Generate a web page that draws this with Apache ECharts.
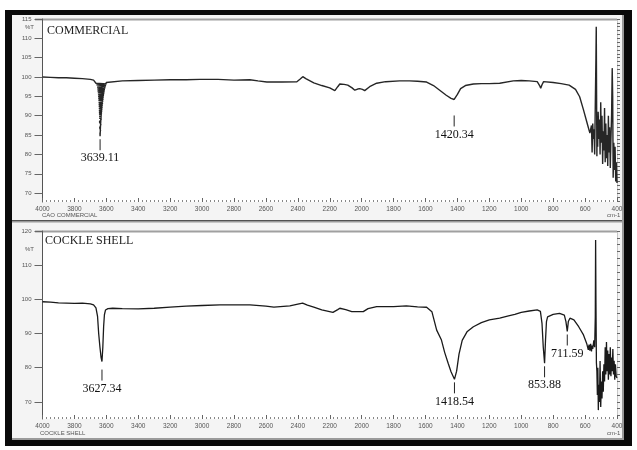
<!DOCTYPE html>
<html>
<head>
<meta charset="utf-8">
<script src="https://cdn.jsdelivr.net/npm/echarts@6/dist/echarts.min.js"></script>
<style>
  html, body { margin: 0; padding: 0; background: #fff; }
  #chart { width: 637px; height: 450px; }
</style>
</head>
<body>
<div id="chart"></div>
<script>
// FTIR transmittance spectra (wavenumber in cm-1, transmittance in %T)
// The commercial O-H band near 3639 cm-1 is a dense burst of readings, listed in scan order.
const commercialWn = [
  4000, 3950, 3900, 3850, 3800, 3750, 3700, 3680, 3670,
  3665, 3599, 3662, 3603, 3658, 3606, 3656, 3609, 3655, 3611, 3653, 3613, 3652, 3615, 3651, 3617,
  3650, 3618, 3649, 3620, 3648, 3621, 3647.5, 3623, 3647, 3624, 3646.5, 3625, 3646, 3626.5, 3645.5, 3628,
  3645, 3629, 3644.5, 3630, 3644, 3631, 3643.5, 3632, 3643, 3633, 3642.5, 3634, 3642, 3635, 3641.5, 3635.5,
  3641, 3636.5, 3640.5, 3637, 3640, 3639.11, 3637, 3633, 3625, 3612, 3600,
  3590, 3500, 3400, 3300, 3200, 3100,
  3014, 2900, 2800, 2701, 2650, 2594, 2500, 2406, 2385, 2369, 2350, 2300, 2250, 2200, 2168, 2150,
  2137, 2110, 2087, 2060, 2043, 2025, 2012, 1995, 1981, 1950, 1906, 1850, 1762, 1700, 1650, 1593,
  1550, 1511, 1470, 1440, 1420.34, 1400, 1380, 1350, 1300, 1250, 1200, 1135, 1050, 1000, 950, 900,
  885, 878, 870, 860, 800, 750, 700, 660, 634, 610, 590, 584, 570, 565, 560, 556,
  552, 548, 544, 540, 536, 532, 530, 528, 526, 524, 521, 518, 514, 510, 506, 502,
  498, 494, 490, 486, 482, 478, 474, 470, 466, 462, 458, 454, 450, 446, 442, 438,
  434, 430, 427, 424, 420, 416, 412, 408, 404, 400
];
const commercialT = [
  100.0, 99.9, 99.8, 99.8, 99.7, 99.6, 99.4, 99.2, 99.0,
  98.4, 98.2, 98.0, 97.7, 97.4, 97.2, 96.9, 96.7, 96.4, 96.2, 95.9, 95.7, 95.4, 95.2, 94.9, 94.7,
  94.4, 94.2, 93.9, 93.7, 93.4, 93.2, 92.9, 92.7, 92.4, 92.2, 91.9, 91.7, 91.4, 91.2, 90.9, 90.7,
  90.4, 90.2, 89.9, 89.7, 89.4, 89.2, 88.9, 88.7, 88.4, 88.2, 87.9, 87.7, 87.4, 87.2, 86.9, 86.7,
  86.4, 86.2, 85.9, 85.7, 85.4, 84.7, 87.0, 90.0, 94.0, 97.0, 98.6,
  98.9, 99.0, 99.1, 99.2, 99.3, 99.3,
  99.4, 99.4, 99.2, 99.3, 99.0, 98.7, 98.7, 98.8, 99.5, 100.1, 99.6, 98.5, 97.8, 97.2, 96.5, 97.5,
  98.2, 98.1, 97.9, 97.2, 96.6, 96.9, 97.0, 96.8, 96.5, 97.5, 98.4, 98.8, 99.0, 99.0, 98.9, 98.7,
  97.8, 96.6, 95.3, 94.5, 94.2, 95.5, 97.0, 97.8, 98.2, 98.3, 98.3, 98.4, 99.0, 99.1, 99.0, 98.8,
  97.8, 97.1, 98.0, 98.8, 98.6, 98.3, 97.9, 96.8, 94.9, 91.5, 88.5, 87.6, 85.5, 85.0, 87.5, 80.5,
  88.0, 84.0, 86.5, 80.0, 93.0, 105.0, 113.0, 96.0, 79.5, 88.0, 82.0, 91.0, 84.0, 89.0, 80.0, 93.5,
  83.0, 90.0, 77.5, 86.0, 81.0, 92.0, 78.0, 88.0, 79.0, 85.0, 77.0, 90.0, 80.5, 87.0, 76.5, 84.0,
  90.0, 102.3, 95.0, 74.0, 83.0, 76.0, 82.0, 73.0, 78.0, 72.6
];

const cockleWn = [
  4000, 3950, 3900, 3850, 3800, 3750, 3700, 3680, 3665, 3655, 3648, 3640, 3633, 3627.34, 3622, 3617,
  3612, 3605, 3590, 3560, 3500, 3400, 3300, 3200, 3100, 3000, 2888, 2800, 2700, 2600, 2550, 2450,
  2400, 2370, 2340, 2300, 2250, 2180, 2168, 2150, 2137, 2100, 2062, 2012, 2006, 1990, 1960, 1906,
  1850, 1815, 1810, 1800, 1720, 1650, 1593, 1560, 1530, 1500, 1480, 1458, 1440, 1418.54, 1405, 1390,
  1370, 1340, 1300, 1250, 1200, 1135, 1080, 1060, 1052, 1040, 1000, 950, 900, 880, 870, 862,
  853.88, 848, 842, 835, 800, 760, 730, 720, 711.59, 705, 695, 670, 640, 610, 590, 580,
  575, 570, 565, 560, 556, 552, 545, 540, 536, 534, 532, 529, 526, 523, 520, 517,
  514, 510, 506, 502, 498, 494, 490, 486, 482, 478, 474, 470, 466, 462, 458, 454,
  450, 446, 442, 438, 434, 430, 426, 422, 418, 414, 410, 405, 400
];
const cockleT = [
  99.3, 99.2, 99.0, 98.9, 98.8, 98.9, 98.7, 98.4, 97.5, 95.0, 90.0, 86.0, 83.0, 81.8, 86.0, 92.0,
  95.5, 96.9, 97.3, 97.4, 97.3, 97.2, 97.4, 97.7, 98.0, 98.2, 98.4, 98.4, 98.4, 98.0, 97.7, 98.1,
  98.6, 98.9, 98.3, 97.7, 96.9, 96.2, 96.0, 97.0, 97.4, 97.0, 96.4, 96.4, 95.9, 96.4, 97.3, 97.9,
  97.9, 97.9, 97.4, 97.9, 98.1, 97.8, 97.7, 96.4, 91.0, 88.1, 84.5, 81.3, 78.8, 76.6, 79.0, 84.0,
  88.0, 90.5, 92.0, 93.2, 94.0, 94.5, 95.2, 95.4, 95.9, 95.6, 96.2, 96.6, 96.9, 96.5, 93.0, 86.0,
  81.3, 88.0, 93.5, 94.9, 95.6, 95.9, 95.4, 93.5, 90.6, 93.5, 94.5, 94.0, 92.0, 89.6, 87.1, 85.2,
  86.8, 85.0, 87.0, 84.8, 86.5, 85.5, 88.0, 86.0, 95.0, 117.4, 100.0, 81.4, 79.0, 72.0, 80.0, 67.6,
  75.0, 70.0, 82.0, 68.5, 76.0, 71.0, 79.0, 73.0, 81.0, 76.0, 86.0, 78.0, 87.5, 79.0, 85.0, 76.5,
  84.0, 78.0, 86.0, 77.5, 83.0, 79.0, 85.5, 78.0, 82.0, 76.5, 81.0, 77.5, 77.0
];

// labelled absorption bands (cm-1)
const commercialPeaks = [3639.11, 1420.34];
const cocklePeaks = [3627.34, 1418.54, 853.88, 711.59];

// y-axis tick labels
const topYLabels = [70, 75, 80, 85, 90, 95, 100, 105, 110, 115];
const bottomYLabels = [70, 80, 90, 100, 110, 120];

const zip = (xs, ys) => xs.map((x, i) => [x, ys[i]]);
const peakPoints = (peaks, xs, ys) => peaks.map(p => [p, ys[xs.indexOf(p)]]);
const range = (a, b, s) => { const r = []; for (let v = a; v <= b + 1e-9; v += s) r.push(+v.toFixed(4)); return r; };

const tickColor = '#666';
const smallFont = 'Arial, "Liberation Sans", sans-serif';
const serif = '"Liberation Serif", "DejaVu Serif", serif';

// pixel gap between a band minimum and its marker stroke
const markerGap = { '1420.34': 16, '3627.34': 8 };

function xAxisFor(gridIndex) {
  return {
    type: 'value', gridIndex, min: 400, max: 4000, interval: 200, inverse: true,
    axisLine: { show: false },
    axisTick: { show: true, inside: true, length: 4, lineStyle: { color: tickColor, width: 1 } },
    minorTick: { show: true, splitNumber: 8, length: 2, lineStyle: { color: '#888', width: 1 } },
    axisLabel: { fontSize: 6.5, color: '#555', margin: 4, fontFamily: smallFont, formatter: v => String(v) },
    splitLine: { show: false }
  };
}

function yMajor(gridIndex, min, max, labels) {
  return {
    type: 'value', gridIndex, min, max,
    axisLine: { show: true, lineStyle: { color: '#555', width: 1 } },
    axisTick: { show: true, customValues: labels, length: 8, lineStyle: { color: tickColor } },
    axisLabel: { customValues: labels, fontSize: 6, color: '#555', margin: 11, fontFamily: smallFont },
    splitLine: { show: false }
  };
}

function yMinor(gridIndex, min, max, ticks) {
  return {
    type: 'value', gridIndex, min, max,
    axisLine: { show: false },
    axisTick: { show: true, customValues: ticks, length: 3, lineStyle: { color: tickColor } },
    axisLabel: { show: false },
    splitLine: { show: false }
  };
}

function peakMarker(params, api) {
  const wn = api.value(0);
  const text = wn.toFixed(2);
  const p = api.coord([wn, api.value(1)]);
  const y0 = p[1] + (markerGap[text] || 3);
  const len = 11;
  return {
    type: 'group',
    children: [
      { type: 'line', shape: { x1: p[0], y1: y0, x2: p[0], y2: y0 + len },
        style: { stroke: '#222', lineWidth: 1 } },
      { type: 'text', x: p[0], y: y0 + len + 2,
        style: { text, font: '12px ' + serif, fill: '#111', align: 'center', verticalAlign: 'top' } }
    ]
  };
}

const chart = echarts.init(document.getElementById('chart'), null, { renderer: 'canvas' });

const bg = -10;
const caption = (x, y, text) => ({ type: 'text', x, y, z: 5,
  style: { text, font: '6px ' + smallFont, fill: '#555', verticalAlign: 'middle' } });

chart.setOption({
  animation: false,
  backgroundColor: '#fff',
  graphic: [
    // outer window frame
    { type: 'rect', z: bg, shape: { x: 5, y: 10, width: 627, height: 436 }, style: { fill: '#0a0a0a' } },
    // upper panel
    { type: 'rect', z: bg, shape: { x: 12, y: 15, width: 611, height: 205 }, style: { fill: '#f4f4f4' } },
    { type: 'rect', z: bg, shape: { x: 42, y: 19, width: 575, height: 183 }, style: { fill: '#ffffff' } },
    { type: 'line', z: bg, shape: { x1: 35, y1: 19.5, x2: 617, y2: 19.5 }, style: { stroke: '#a0a0a0', lineWidth: 2 } },
    { type: 'line', z: bg, shape: { x1: 617.5, y1: 19, x2: 617.5, y2: 202 }, style: { stroke: '#c8c8c8', lineWidth: 1 } },
    // lower panel
    { type: 'rect', z: bg, shape: { x: 12, y: 222, width: 611, height: 218 }, style: { fill: '#f4f4f4' } },
    { type: 'rect', z: bg, shape: { x: 42, y: 231, width: 575, height: 188 }, style: { fill: '#ffffff' } },
    { type: 'line', z: bg, shape: { x1: 35, y1: 231.5, x2: 617, y2: 231.5 }, style: { stroke: '#a0a0a0', lineWidth: 2 } },
    { type: 'line', z: bg, shape: { x1: 617.5, y1: 231, x2: 617.5, y2: 419 }, style: { stroke: '#c8c8c8', lineWidth: 1 } },
    // panel separators and side rails
    { type: 'line', z: bg, shape: { x1: 12, y1: 221.5, x2: 623, y2: 221.5 }, style: { stroke: '#9a9a9a', lineWidth: 2 } },
    { type: 'line', z: bg, shape: { x1: 12, y1: 439, x2: 623, y2: 439 }, style: { stroke: '#9a9a9a', lineWidth: 2 } },
    { type: 'line', z: bg, shape: { x1: 623, y1: 15, x2: 623, y2: 440 }, style: { stroke: '#9a9a9a', lineWidth: 2 } },

    // axis captions
    caption(25, 27, '%T'),
    caption(25, 249, '%T'),
    caption(42, 215.5, 'CAO COMMERCIAL'),
    caption(40, 433, 'COCKLE SHELL'),
    caption(607, 215.5, 'cm-1'),
    caption(607, 433, 'cm-1'),

    // sample names
    { type: 'text', x: 47, y: 25, z: 5, style: { text: 'COMMERCIAL', font: '12px ' + serif, fill: '#222' } },
    { type: 'text', x: 45, y: 235, z: 5, style: { text: 'COCKLE SHELL', font: '12px ' + serif, fill: '#222' } }
  ],
  grid: [
    { left: 42.5, top: 19, width: 574.5, height: 183 },
    { left: 42.5, top: 231, width: 574.5, height: 188 }
  ],
  xAxis: [xAxisFor(0), xAxisFor(1)],
  yAxis: [
    yMajor(0, 67.7, 115, topYLabels),
    yMinor(0, 67.7, 115, range(68, 115, 1)),
    yMajor(1, 65, 120, bottomYLabels),
    yMinor(1, 65, 120, range(66, 120, 2))
  ],
  series: [
    { type: 'line', xAxisIndex: 0, yAxisIndex: 0, data: zip(commercialWn, commercialT),
      showSymbol: false, lineStyle: { color: '#262626', width: 1.4 }, z: 3 },
    { type: 'line', xAxisIndex: 1, yAxisIndex: 2, data: zip(cockleWn, cockleT),
      showSymbol: false, lineStyle: { color: '#1a1a1a', width: 1.3 }, z: 3 },
    { type: 'custom', xAxisIndex: 0, yAxisIndex: 0, data: peakPoints(commercialPeaks, commercialWn, commercialT),
      renderItem: peakMarker, z: 4 },
    { type: 'custom', xAxisIndex: 1, yAxisIndex: 2, data: peakPoints(cocklePeaks, cockleWn, cockleT),
      renderItem: peakMarker, z: 4 }
  ]
});
</script>
</body>
</html>
